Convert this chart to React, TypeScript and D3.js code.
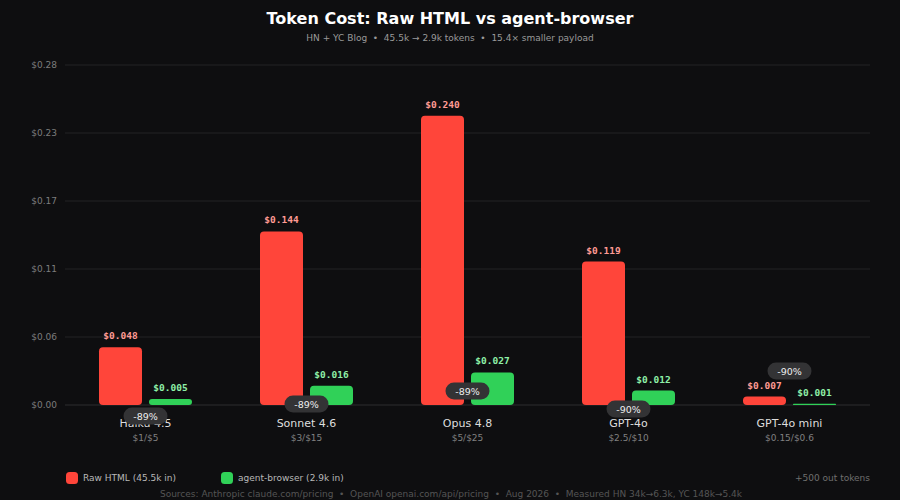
import { useEffect, useRef } from "react";
import * as d3 from "d3";

const models = ["Haiku 4.5", "Sonnet 4.6", "Opus 4.8", "GPT-4o", "GPT-4o mini"];
const prices = ["$1/$5", "$3/$15", "$5/$25", "$2.5/$10", "$0.15/$0.6"];
const rawCost = [0.048, 0.144, 0.24, 0.119, 0.007];
const agentCost = [0.005, 0.016, 0.027, 0.012, 0.001];
const savings = ["-89%", "-89%", "-89%", "-90%", "-90%"];
const yMax = 0.282;

const W = 900;
const H = 500;
const RED = "#ff453a";
const GREEN = "#30d158";
const SANS = "'DejaVu Sans', Verdana, sans-serif";
const MONO = "'DejaVu Sans Mono', monospace";

// badge vertical nudges (px from baseline), as the original layout placed them
const badgeShift = [11, -1, -14, 4, -34];

export default function App() {
  const svgRef = useRef<SVGSVGElement>(null);

  useEffect(() => {
    document.body.style.margin = "0";
    if (!svgRef.current) return;
    const svg = d3.select(svgRef.current);
    svg.selectAll("*").remove();

    const margin = { top: 65, right: 30, bottom: 95, left: 65 };
    const x0 = margin.left;
    const x1 = W - margin.right;
    const y0 = H - margin.bottom;

    svg.append("rect").attr("width", W).attr("height", H).attr("fill", "#0e0e10");

    // title
    svg.append("text")
      .attr("x", W / 2).attr("y", 24)
      .attr("text-anchor", "middle")
      .attr("fill", "#ffffff")
      .attr("font-family", SANS)
      .attr("font-weight", "bold")
      .attr("font-size", "16px")
      .text("Token Cost: Raw HTML vs agent-browser");

    svg.append("text")
      .attr("x", W / 2).attr("y", 41)
      .attr("text-anchor", "middle")
      .attr("fill", "#9a9a9a")
      .attr("font-family", SANS)
      .attr("font-size", "9px")
      .style("white-space", "pre")
      .text("HN + YC Blog  •  45.5k → 2.9k tokens  •  15.4× smaller payload");

    const x = d3.scaleBand<string>().domain(models).range([x0, x1]).padding(0);
    const y = d3.scaleLinear().domain([0, yMax]).range([y0, margin.top]);

    const ticks = d3.range(6).map(i => (yMax * i) / 5);

    // grid
    svg.append("g")
      .selectAll("line")
      .data(ticks)
      .join("line")
      .attr("x1", x0).attr("x2", x1)
      .attr("y1", d => y(d)).attr("y2", d => y(d))
      .attr("stroke", (d, i) => (i === 0 ? "#2c2c2f" : "#222225"))
      .attr("stroke-width", 1);

    svg.append("g")
      .selectAll("text")
      .data(ticks)
      .join("text")
      .attr("x", x0 - 8)
      .attr("y", d => y(d) + 3)
      .attr("text-anchor", "end")
      .attr("fill", "#7c7c7c")
      .attr("font-family", SANS)
      .attr("font-size", "9px")
      .text(d => `$${d.toFixed(2)}`);

    const groups = svg.append("g")
      .selectAll("g")
      .data(models)
      .join("g");

    models.forEach((m, i) => {
      const cx = (x(m) as number) + x.bandwidth() / 2;
      const inner = d3.scaleBand<string>()
        .domain(["raw", "agent"])
        .range([cx - 46.5, cx + 46.5])
        .paddingInner(0.14);

      const series = [
        { key: "raw", v: rawCost[i], fill: RED, label: "#ff9b94" },
        { key: "agent", v: agentCost[i], fill: GREEN, label: "#8ef0a8" },
      ];

      const g = groups.filter((_, j) => j === i);

      series.forEach(s => {
        const top = y(s.v);
        const h = Math.max(1, y0 - top);
        g.append("rect")
          .attr("x", inner(s.key) as number)
          .attr("y", y0 - h)
          .attr("width", inner.bandwidth())
          .attr("height", h)
          .attr("rx", Math.min(4, h / 2))
          .attr("fill", s.fill);

        g.append("text")
          .attr("x", (inner(s.key) as number) + inner.bandwidth() / 2)
          .attr("y", y0 - h - 8)
          .attr("text-anchor", "middle")
          .attr("fill", s.label)
          .attr("font-family", MONO)
          .attr("font-weight", "bold")
          .attr("font-size", "9.5px")
          .text(`$${s.v.toFixed(3)}`);
      });

      // category + price
      g.append("text")
        .attr("x", cx).attr("y", y0 + 22)
        .attr("text-anchor", "middle")
        .attr("fill", "#dedede")
        .attr("font-family", SANS)
        .attr("font-size", "11px")
        .text(m);

      g.append("text")
        .attr("x", cx).attr("y", y0 + 36)
        .attr("text-anchor", "middle")
        .attr("fill", "#808080")
        .attr("font-family", SANS)
        .attr("font-size", "9px")
        .text(prices[i]);

      // savings badge
      const by = y0 + badgeShift[i];
      g.append("rect")
        .attr("x", cx - 22).attr("y", by - 8.5)
        .attr("width", 44).attr("height", 17)
        .attr("rx", 8.5)
        .attr("fill", "#333335");
      g.append("text")
        .attr("x", cx).attr("y", by + 3.5)
        .attr("text-anchor", "middle")
        .attr("fill", "#eeeeee")
        .attr("font-family", SANS)
        .attr("font-size", "9.5px")
        .text(savings[i]);
    });

    // legend
    const legend = [
      { label: "Raw HTML (45.5k in)", fill: RED, x: 66 },
      { label: "agent-browser (2.9k in)", fill: GREEN, x: 221 },
    ];
    legend.forEach(l => {
      svg.append("rect")
        .attr("x", l.x).attr("y", 472)
        .attr("width", 12).attr("height", 12)
        .attr("rx", 3.5)
        .attr("fill", l.fill);
      svg.append("text")
        .attr("x", l.x + 17).attr("y", 481)
        .attr("fill", "#b8b8b8")
        .attr("font-family", SANS)
        .attr("font-size", "9px")
        .text(l.label);
    });

    svg.append("text")
      .attr("x", x1).attr("y", 481)
      .attr("text-anchor", "end")
      .attr("fill", "#6e6e6e")
      .attr("font-family", SANS)
      .attr("font-size", "9px")
      .text("+500 out tokens");

    svg.append("text")
      .attr("x", W / 2 + 1).attr("y", 497)
      .attr("text-anchor", "middle")
      .attr("fill", "#555555")
      .attr("font-family", SANS)
      .attr("font-size", "9px")
      .style("white-space", "pre")
      .text("Sources: Anthropic claude.com/pricing  •  OpenAI openai.com/api/pricing  •  Aug 2026  •  Measured HN 34k→6.3k, YC 148k→5.4k");
  }, []);

  return <svg ref={svgRef} width={W} height={H} style={{ display: "block" }} />;
}
